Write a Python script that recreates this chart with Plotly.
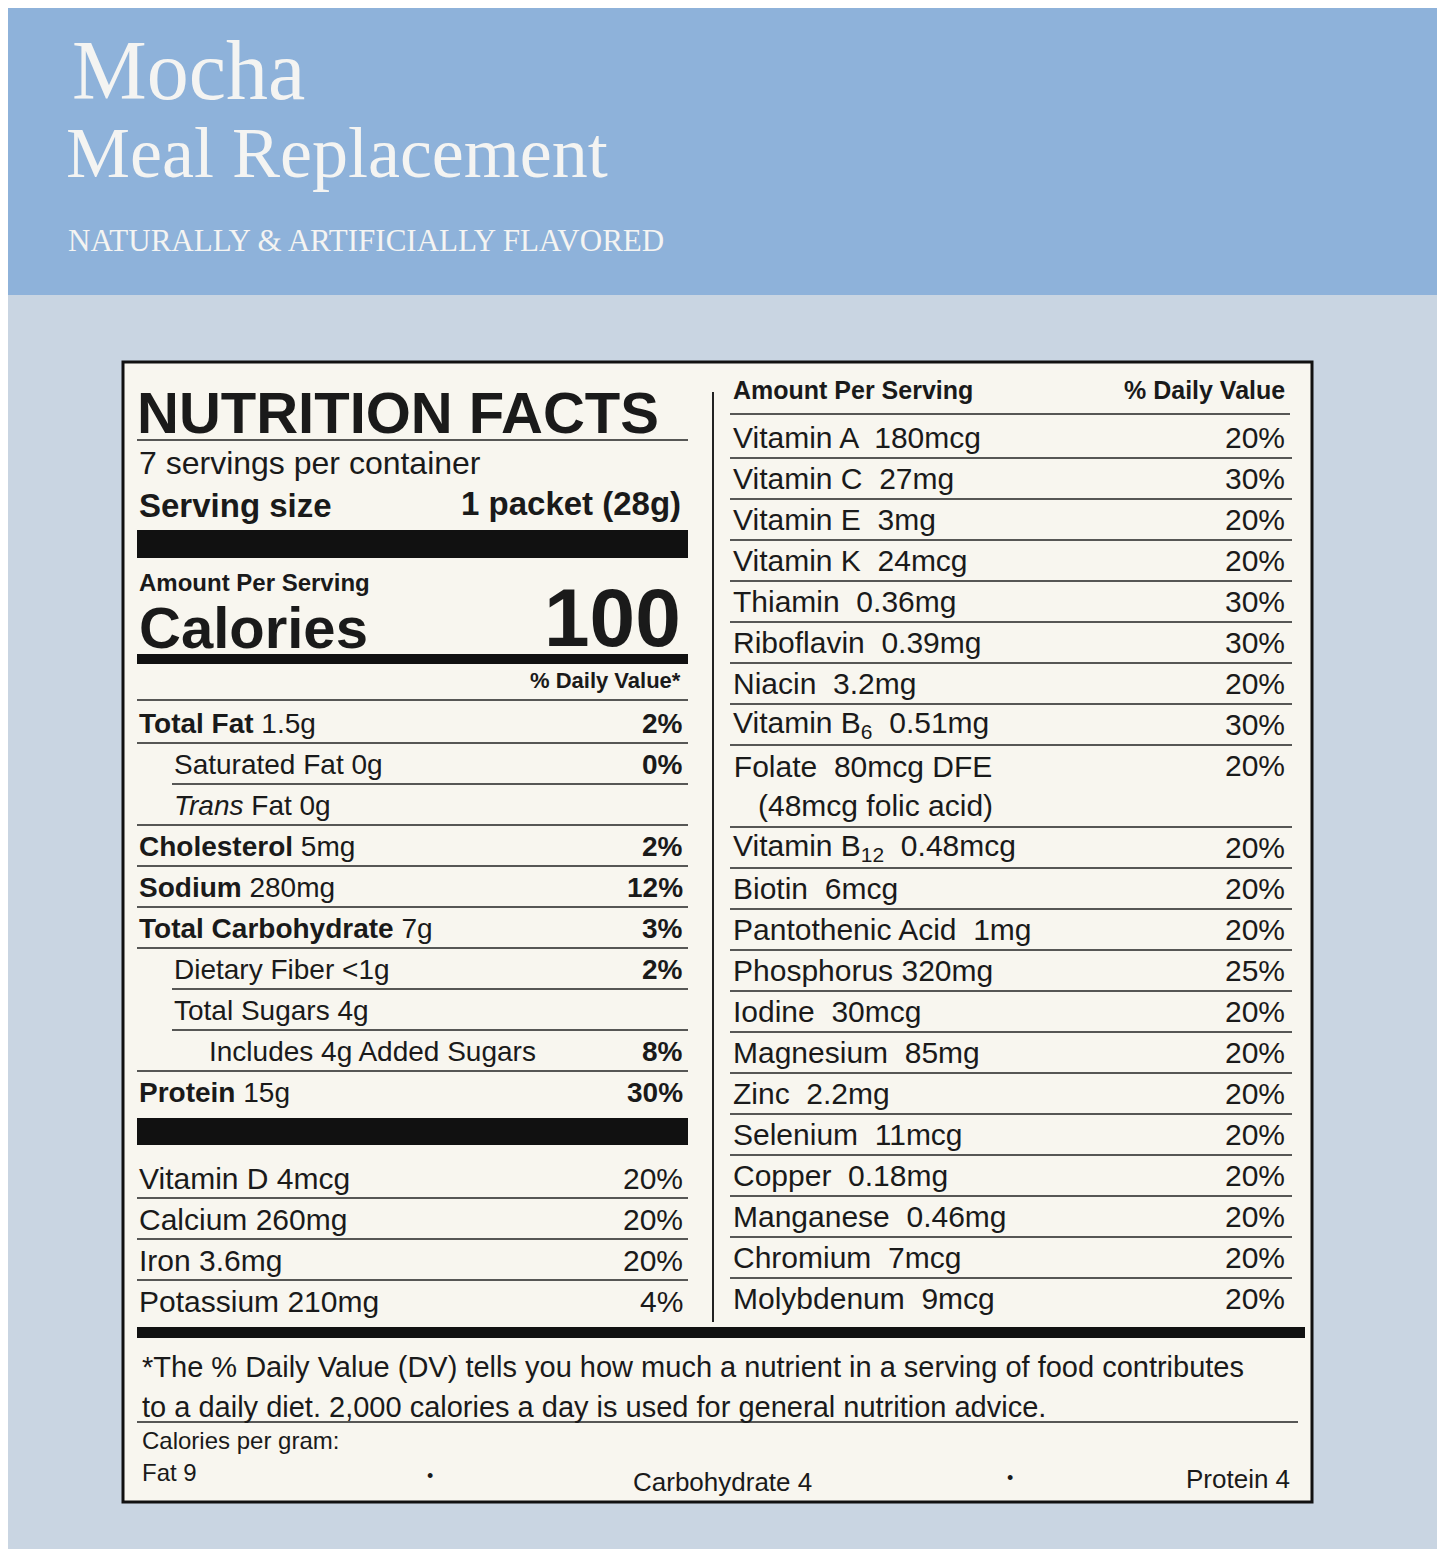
import plotly.graph_objects as go

W, H = 1445, 1549

# ---- data ----
left_names = ["<b>Total Fat</b> 1.5g", "Saturated Fat 0g", "<i>Trans</i> Fat 0g",
              "<b>Cholesterol</b> 5mg", "<b>Sodium</b> 280mg", "<b>Total Carbohydrate</b> 7g",
              "Dietary Fiber <1g", "Total Sugars 4g", "Includes 4g Added Sugars",
              "<b>Protein</b> 15g"]
left_indent = [0, 1, 1, 0, 0, 0, 1, 1, 2, 0]
left_dv = ["2%", "0%", "", "2%", "12%", "3%", "2%", "", "8%", "30%"]

min_names = ["Vitamin D 4mcg", "Calcium 260mg", "Iron 3.6mg", "Potassium 210mg"]
min_dv = ["20%", "20%", "20%", "4%"]

right_names = ["Vitamin A  180mcg", "Vitamin C  27mg", "Vitamin E  3mg", "Vitamin K  24mcg",
               "Thiamin  0.36mg", "Riboflavin  0.39mg", "Niacin  3.2mg",
               "Vitamin B<sub>6</sub>  0.51mg", "Folate  80mcg DFE<br>   (48mcg folic acid)",
               "Vitamin B<sub>12</sub>  0.48mcg", "Biotin  6mcg", "Pantothenic Acid  1mg",
               "Phosphorus 320mg", "Iodine  30mcg", "Magnesium  85mg", "Zinc  2.2mg",
               "Selenium  11mcg", "Copper  0.18mg", "Manganese  0.46mg", "Chromium  7mcg",
               "Molybdenum  9mcg"]
right_dv = ["20%", "30%", "20%", "20%", "30%", "30%", "20%", "30%", "20%", "20%", "20%",
            "20%", "25%", "20%", "20%", "20%", "20%", "20%", "20%", "20%", "20%"]
right_lines = [1, 1, 1, 1, 1, 1, 1, 1, 2, 1, 1, 1, 1, 1, 1, 1, 1, 1, 1, 1, 1]

FONT = "Liberation Sans"
SERIF = "Liberation Serif"
ROW = 41
OFF = 8  # page body margin

fig = go.Figure(go.Scatter(x=[0], y=[0], mode="markers", marker=dict(opacity=0), hoverinfo="skip"))
shapes, ann = [], []

def rect(x0, y0, x1, y1, fill, line=None, w=0):
    shapes.append(dict(type="rect", x0=x0, y0=y0, x1=x1, y1=y1, fillcolor=fill,
                       line=dict(color=line or fill, width=w), layer="below"))

def hline(x0, x1, y, w=1.5):
    shapes.append(dict(type="line", x0=x0, x1=x1, y0=y, y1=y, line=dict(color="#222", width=w)))

def txt(x, y, s, size=30, anchor="left", color="#1a1a1a", family=FONT):
    if not s or s == "<b></b>":
        return
    ann.append(dict(x=x, y=y, text=s, showarrow=False, xanchor=anchor, yanchor="middle",
                    font=dict(size=size, color=color, family=family)))

# background
rect(-20, -20, W + 20, 295, "#8eb2da")
rect(-20, 295, W + 20, H + 20, "#c9d5e2")
rect(123, 362, 1312, 1502, "#f8f6ef", "#111", 3)

# title
txt(70, 70, "Mocha", 84, color="#f4f4f2", family=SERIF)
txt(64, 153, "Meal Replacement", 72, color="#f4f4f2", family=SERIF)
txt(66, 240, "NATURALLY & ARTIFICIALLY FLAVORED", 31, color="#f4f4f2", family=SERIF)

# left header
txt(135, 412, "<b>NUTRITION FACTS</b>", 58)
hline(137, 688, 440)
txt(137, 463, "7 servings per container", 32)
txt(137, 505, "<b>Serving size</b>", 33)
txt(683, 503, "<b>1 packet (28g)</b>", 33, "right")
rect(137, 530, 688, 558, "#111")
txt(137, 582, "<b>Amount Per Serving</b>", 24)
txt(137, 627, "<b>Calories</b>", 58)
txt(683, 617, "<b>100</b>", 82, "right")
rect(137, 654, 688, 664, "#111")
txt(683, 680, "<b>% Daily Value*</b>", 22, "right")
hline(137, 688, 700)

indent_px = [0, 35, 70]
for i, (n, ind, dv) in enumerate(zip(left_names, left_indent, left_dv)):
    y = 723 + i * ROW
    txt(137 + indent_px[ind], y, n, 28)
    txt(685, y, "<b>" + dv + "</b>", 28, "right")
    if i < len(left_names) - 1:
        hline(137 + (indent_px[ind] if left_indent[i + 1] else 0), 688, y + 20)
rect(137, 1118, 688, 1145, "#111")
for i, (n, dv) in enumerate(zip(min_names, min_dv)):
    y = 1178 + i * ROW
    txt(137, y, n, 30)
    txt(685, y, dv, 30, "right")
    if i < len(min_names) - 1:
        hline(137, 688, y + 20)

# divider
shapes.append(dict(type="line", x0=713, x1=713, y0=392, y1=1322, line=dict(color="#222", width=2)))

# right column
txt(731, 390, "<b>Amount Per Serving</b>", 25)
txt(1287, 390, "<b>% Daily Value</b>", 25, "right")
hline(730, 1290, 414)
y = 437
for n, dv, nl in zip(right_names, right_dv, right_lines):
    txt(731, y + (nl - 1) * ROW / 2, n, 30)
    txt(1287, y, dv, 30, "right")
    y += nl * ROW
    if n != right_names[-1]:
        hline(730, 1292, y - 20)

# footer
rect(137, 1327, 1305, 1338, "#111")
txt(140, 1367, "*The % Daily Value (DV) tells you how much a nutrient in a serving of food contributes", 29)
txt(140, 1407, "to a daily diet. 2,000 calories a day is used for general nutrition advice.", 29)
hline(137, 1298, 1422)
txt(140, 1440, "Calories per gram:", 24)
txt(140, 1472, "Fat 9", 24)
txt(425, 1476, "•", 18)
txt(722, 1482, "Carbohydrate 4", 26, "center")
txt(1005, 1478, "•", 18)
txt(1292, 1479, "Protein 4", 26, "right")

fig.update_layout(width=W, height=H, margin=dict(l=0, r=0, t=0, b=0),
                  shapes=shapes, annotations=ann, showlegend=False,
                  plot_bgcolor="#c9d5e2", paper_bgcolor="#c9d5e2",
                  xaxis=dict(range=[OFF, W + OFF], visible=False, fixedrange=True),
                  yaxis=dict(range=[H + OFF, OFF], visible=False, fixedrange=True))
fig.write_html("out.html")
